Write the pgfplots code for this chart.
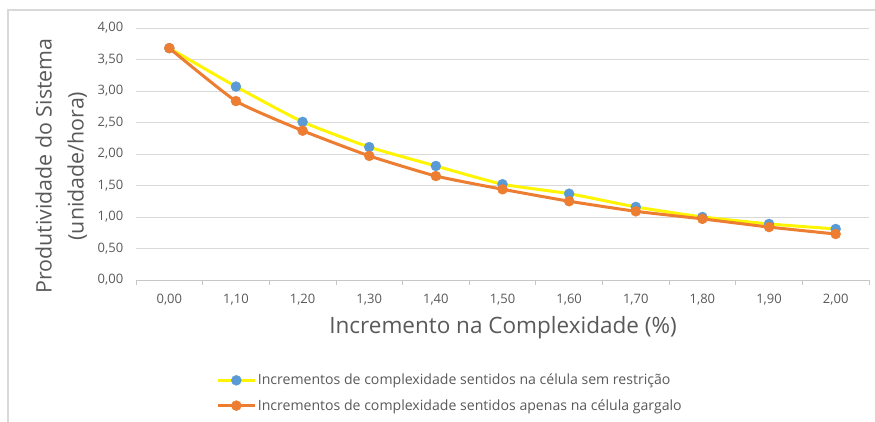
\documentclass[border=0pt]{standalone}
\usepackage{pgfplots}
\pgfplotsset{compat=1.18}
\usepackage{fontspec}
\setmainfont{Open Sans}
\definecolor{txtgray}{RGB}{89,89,89}
\definecolor{gridgray}{RGB}{217,217,217}
\definecolor{ylw}{RGB}{255,245,0}
\definecolor{blu}{RGB}{91,155,213}
\definecolor{org}{RGB}{237,125,49}
\begin{document}
\begin{tikzpicture}
\useasboundingbox (0pt,0pt) rectangle (875pt,422pt);
\draw[gridgray, line width=1.5pt] (8pt,0pt) -- (8pt,412pt) -- (875pt,412pt);
\begin{axis}[
  at={(136pt,142pt)}, anchor=south west,
  scale only axis, width=733pt, height=252pt,
  xmin=-0.5, xmax=10.5, ymin=0, ymax=4,
  axis x line*=bottom, axis y line*=left,
  y axis line style={draw=none},
  x axis line style={gridgray!80!gray, line width=0.8pt},
  xtick={0,...,10},
  xticklabels={{0,00},{1,10},{1,20},{1,30},{1,40},{1,50},{1,60},{1,70},{1,80},{1,90},{2,00}},
  major x tick style={draw=none},
  minor xtick={-0.5,0.5,...,10.5},
  minor x tick style={gridgray!80!gray, line width=0.8pt},
  minor tick length=5pt, tick align=outside,
  ytick={0,0.5,...,4},
  ytick style={draw=none},
  ymajorgrids, grid style={gridgray, line width=0.8pt},
  yticklabel style={/pgf/number format/fixed, /pgf/number format/fixed zerofill, /pgf/number format/precision=2, /pgf/number format/use comma},
  /pgf/number format/assume math mode=true,
  ticklabel style={font=\fontsize{13}{15}\selectfont, text=txtgray},
  xticklabel style={yshift=-6pt},
  yticklabel style={xshift=-5pt},
  xlabel={Incremento na Complexidade (\%)},
  xlabel style={at={(rel axis cs:0.5007,-0.19)}, anchor=center, font=\fontsize{22.5}{26}\selectfont, text=txtgray},
  ylabel={Produtividade do Sistema\\(unidade/hora)},
  ylabel style={at={(rel axis cs:-0.102,0.452)}, anchor=center, align=center, font=\fontsize{21.4}{32}\selectfont, text=txtgray},
  legend style={at={(rel axis cs:0.11,-0.365)}, anchor=north west, draw=none, fill=none,
    font=\fontsize{14.1}{16}\selectfont, text=txtgray, row sep=9pt, inner sep=0pt},
  legend cell align=left,
  legend image code/.code={\draw[mark repeat=2,mark phase=2,#1] plot coordinates {(0pt,0pt) (18pt,0pt) (36pt,0pt)};},
]
\addplot[ylw, line width=3pt, smooth, tension=0.3, mark=*, mark size=5pt, mark options={solid, fill=blu, draw=blu, line width=0.4pt}]
 coordinates {(0,3.68) (1,3.07) (2,2.51) (3,2.11) (4,1.81) (5,1.52) (6,1.37) (7,1.16) (8,1.00) (9,0.89) (10,0.81)};
\addlegendentry{Incrementos de complexidade sentidos na célula sem restrição}
\addplot[org, line width=3pt, smooth, tension=0.3, mark=*, mark size=5pt, mark options={solid, fill=org, draw=org, line width=0.4pt}]
 coordinates {(0,3.68) (1,2.84) (2,2.37) (3,1.97) (4,1.65) (5,1.44) (6,1.25) (7,1.09) (8,0.97) (9,0.84) (10,0.73)};
\addlegendentry{Incrementos de complexidade sentidos apenas na célula gargalo}
\end{axis}
\end{tikzpicture}
\end{document}
